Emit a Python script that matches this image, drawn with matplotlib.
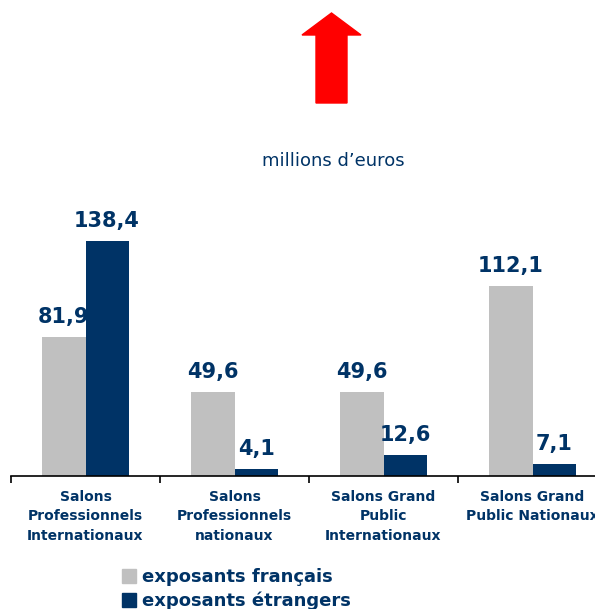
import matplotlib.pyplot as plt
from matplotlib.patches import Polygon, Patch
import numpy as np

categories = ['Salons\nProfessionnels\nInternationaux',
              'Salons\nProfessionnels\nnationaux',
              'Salons Grand\nPublic\nInternationaux',
              'Salons Grand\nPublic Nationaux']
francais = [81.9, 49.6, 49.6, 112.1]
etrangers = [138.4, 4.1, 12.6, 7.1]
series_names = ['exposants français', 'exposants étrangers']
unit_label = 'millions d\u2019euros'

GRAY = '#C0C0C0'
NAVY = '#003366'
W, H = 595, 609

fig = plt.figure(figsize=(W / 100, H / 100), dpi=100)
# axes placed in pixel units: baseline at y=476, 1.698 px per million
ymax = 160
ax = fig.add_axes([11 / W, 1 - 476 / H, 596 / W, ymax * 1.698 / H])

x = np.arange(len(categories))
w = 0.29
b1 = ax.bar(x - w / 2, francais, w, color=GRAY)
b2 = ax.bar(x + w / 2, etrangers, w, color=NAVY)

for bars, vals in ((b1, francais), (b2, etrangers)):
    for r, v in zip(bars, vals):
        ax.annotate(f'{v:.1f}'.replace('.', ','),
                    (r.get_x() + r.get_width() / 2, v),
                    xytext=(0, 7), textcoords='offset points',
                    ha='center', va='bottom', fontsize=15,
                    fontweight='bold', color=NAVY)

ax.set_xlim(-0.5, len(categories) - 0.5)
ax.set_ylim(0, ymax)
for s in ('left', 'right', 'top'):
    ax.spines[s].set_visible(False)
ax.spines['bottom'].set_linewidth(1.2)
ax.set_yticks([])
ax.set_xticks(x)
ax.set_xticklabels(categories, fontsize=10, fontweight='bold', color=NAVY,
                   linespacing=1.5)
ax.tick_params(axis='x', which='major', length=0, pad=10)
ax.set_xticks(np.arange(len(categories)) - 0.5, minor=True)
ax.tick_params(axis='x', which='minor', length=5, width=1.2, direction='out')

fig.text(333 / W, 1 - 161 / H, unit_label, ha='center', va='center',
         fontsize=13, color=NAVY)

# red arrow above the chart
arrow = [(316, 103), (316, 35), (302, 35), (331.5, 13), (361, 35),
         (347, 35), (347, 103)]
fig.patches.append(Polygon([(px / W, 1 - py / H) for px, py in arrow],
                           closed=True, color='#FF0000',
                           transform=fig.transFigure))

handles = [Patch(color=GRAY), Patch(color=NAVY)]
leg = fig.legend(handles, series_names, loc='upper left',
                 bbox_to_anchor=(122 / W, 1 - 568 / H), frameon=False,
                 borderpad=0, borderaxespad=0, handlelength=0.75,
                 handleheight=0.8, handletextpad=0.35, labelspacing=0.3,
                 prop={'size': 13, 'weight': 'bold'})
for t in leg.get_texts():
    t.set_color(NAVY)

fig.savefig('out.png', dpi=100)
